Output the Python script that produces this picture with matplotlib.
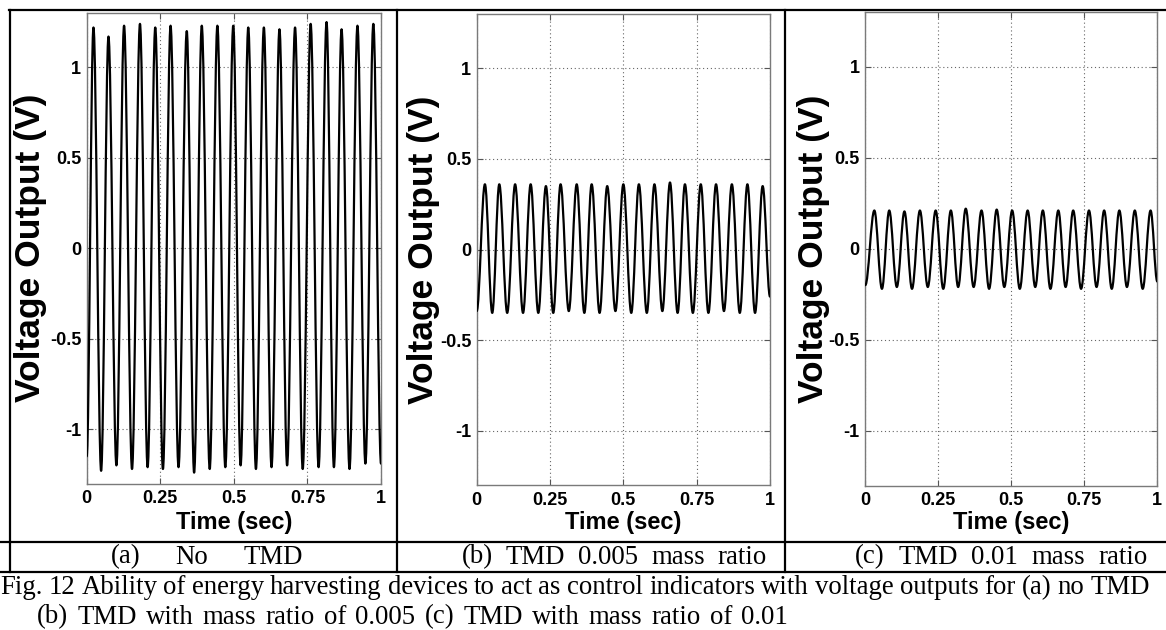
import matplotlib
matplotlib.use("Agg")
import matplotlib.pyplot as plt
from matplotlib.lines import Line2D
from matplotlib.path import Path
from matplotlib.patches import PathPatch

# ---------------- data ----------------
x_ticks = [0, 0.25, 0.5, 0.75, 1]
x_tick_labels = ["0", "0.25", "0.5", "0.75", "1"]
y_ticks = [-1, -0.5, 0, 0.5, 1]
y_tick_labels = ["-1", "-0.5", "0", "0.5", "1"]

# (a) No TMD : alternating extrema of the voltage trace
a_time = [0.000, 0.023, 0.049, 0.074, 0.101, 0.127, 0.154, 0.181, 0.207, 0.233,
          0.259, 0.285, 0.312, 0.340, 0.365, 0.391, 0.418, 0.444, 0.471, 0.498,
          0.523, 0.549, 0.575, 0.602, 0.628, 0.655, 0.681, 0.708, 0.734, 0.761,
          0.788, 0.815, 0.840, 0.866, 0.893, 0.920, 0.947, 0.974, 1.000]
a_volt = [-1.15, 1.22, -1.23, 1.17, -1.20, 1.23, -1.22, 1.24, -1.21, 1.22,
          -1.22, 1.23, -1.21, 1.20, -1.24, 1.23, -1.22, 1.23, -1.21, 1.23,
          -1.20, 1.22, -1.22, 1.22, -1.21, 1.21, -1.20, 1.22, -1.22, 1.24,
          -1.21, 1.25, -1.21, 1.21, -1.22, 1.23, -1.19, 1.24, -1.19]

# (b) TMD 0.005 mass ratio
b_time = [0.000, 0.028, 0.053, 0.077, 0.104, 0.131, 0.158, 0.184, 0.210, 0.236,
          0.261, 0.286, 0.314, 0.341, 0.367, 0.392, 0.419, 0.445, 0.473, 0.500,
          0.527, 0.553, 0.580, 0.606, 0.633, 0.659, 0.685, 0.710, 0.737, 0.764,
          0.790, 0.816, 0.843, 0.870, 0.897, 0.923, 0.949, 0.975, 1.000]
b_volt = [-0.34, 0.36, -0.35, 0.36, -0.35, 0.36, -0.35, 0.36, -0.35, 0.35,
          -0.35, 0.36, -0.34, 0.36, -0.35, 0.36, -0.35, 0.35, -0.34, 0.36,
          -0.35, 0.36, -0.35, 0.36, -0.34, 0.37, -0.35, 0.36, -0.35, 0.36,
          -0.35, 0.36, -0.34, 0.36, -0.35, 0.36, -0.35, 0.35, -0.26]

# (c) TMD 0.01 mass ratio
c_time = [0.000, 0.031, 0.057, 0.082, 0.108, 0.134, 0.160, 0.187, 0.214, 0.241,
          0.267, 0.293, 0.318, 0.344, 0.371, 0.398, 0.424, 0.450, 0.476, 0.503,
          0.529, 0.556, 0.582, 0.608, 0.634, 0.661, 0.686, 0.712, 0.739, 0.766,
          0.792, 0.818, 0.844, 0.870, 0.896, 0.923, 0.950, 0.977, 1.000]
c_volt = [-0.20, 0.21, -0.22, 0.21, -0.21, 0.205, -0.22, 0.21, -0.21, 0.21,
          -0.22, 0.21, -0.21, 0.22, -0.21, 0.21, -0.22, 0.215, -0.21, 0.21,
          -0.22, 0.21, -0.21, 0.21, -0.22, 0.21, -0.21, 0.21, -0.22, 0.21,
          -0.21, 0.21, -0.22, 0.21, -0.21, 0.21, -0.22, 0.21, -0.18]

sub_captions = ["(a) No TMD", "(b) TMD 0.005 mass ratio", "(c) TMD 0.01 mass ratio"]
fig_caption_1 = ("Fig. 12 Ability of energy harvesting devices to act as control indicators "
                 "with voltage outputs for (a) no TMD")
fig_caption_2 = "(b) TMD with mass ratio of 0.005 (c) TMD with mass ratio of 0.01"
x_label = "Time (sec)"
y_label = "Voltage Output (V)"

# ---------------- figure ----------------
W, H = 1166, 630
fig = plt.figure(figsize=(W / 100, H / 100), dpi=100)
fig.patch.set_facecolor("white")
renderer = fig.canvas.get_renderer()

SANS = ["Liberation Sans", "DejaVu Sans"]
SERIF = ["Liberation Serif", "DejaVu Serif"]


def px_axes(left, right, top, bottom):
    return fig.add_axes([left / W, 1 - bottom / H, (right - left) / W, (bottom - top) / H])


def smooth_path(tt, vv, k=0.3634):
    """Smooth curve through the extrema (horizontal tangents at each extremum)."""
    verts = [(tt[0], vv[0])]
    codes = [Path.MOVETO]
    for i in range(1, len(tt)):
        t0, v0, t1, v1 = tt[i - 1], vv[i - 1], tt[i], vv[i]
        d = t1 - t0
        verts += [(t0 + k * d, v0), (t1 - k * d, v1), (t1, v1)]
        codes += [Path.CURVE4] * 3
    return Path(verts, codes)


boxes = [(86.7, 381.0, 13.0, 483.5), (476.7, 770.0, 14.0, 485.0), (865.3, 1157.3, 12.0, 485.5)]
series = [(a_time, a_volt), (b_time, b_volt), (c_time, c_volt)]
ylabel_x = [31, 423, 814]

for (l, r, t, b), (tt, vv), ylx in zip(boxes, series, ylabel_x):
    ax = px_axes(l, r, t, b)
    ax.add_patch(PathPatch(smooth_path(tt, vv), facecolor="none", edgecolor="black",
                           lw=1.6, joinstyle="round", capstyle="round", zorder=3))
    ax.set_xlim(0, 1)
    ax.set_ylim(-1.3, 1.3)
    ax.set_xticks(x_ticks)
    ax.set_xticklabels(x_tick_labels)
    ax.set_yticks(y_ticks)
    ax.set_yticklabels(y_tick_labels)
    ax.tick_params(direction="in", top=True, right=True, length=4, width=0.8,
                   color="#555555", pad=4)
    ax.tick_params(axis="x", pad=5)
    for lab in ax.get_xticklabels() + ax.get_yticklabels():
        lab.set_fontfamily(SANS)
        lab.set_fontweight("bold")
        lab.set_fontsize(13)
    ax.grid(True, linestyle=(0, (1, 2.5)), color="#666666", lw=0.8)
    for sp in ax.spines.values():
        sp.set_color("#7a7a7a")
        sp.set_linewidth(1.0)
    ax.set_xlabel(x_label, fontfamily=SANS, fontweight="bold", fontsize=17, labelpad=0)
    ax.xaxis.set_label_coords(0.5, (b - 523) / (b - t), transform=ax.transAxes)
    ax.set_ylabel(y_label, fontfamily=SANS, fontweight="bold", fontsize=25.5, labelpad=0)
    ax.yaxis.set_label_coords((ylx - l) / (r - l), 0.5, transform=ax.transAxes)
    ax.xaxis.label.set_verticalalignment("center")
    ax.yaxis.label.set_verticalalignment("center")

# ---------------- table frame ----------------
def hline(y, x0, x1):
    fig.add_artist(Line2D([x0 / W, x1 / W], [1 - y / H, 1 - y / H], color="black", lw=1.6,
                          transform=fig.transFigure))


def vline(x, y0, y1):
    fig.add_artist(Line2D([x / W, x / W], [1 - y0 / H, 1 - y1 / H], color="black", lw=1.6,
                          transform=fig.transFigure))


hline(10, 9, W)
hline(541.5, 0, W)
hline(572, 0, W)
vline(10, 10, 572)
vline(397, 10, 572)
vline(785, 10, 572)


def justified(text, x0, x1, yc, size):
    """Place the words of a line so that it spans x0..x1 pixels (justified text)."""
    words = text.split(" ")
    arts = [fig.text(0, 1 - yc / H, w, ha="left", va="center", fontfamily=SERIF,
                     fontsize=size) for w in words]
    widths = [a.get_window_extent(renderer).width for a in arts]
    gap = (x1 - x0 - sum(widths)) / max(len(words) - 1, 1)
    x = x0
    for a, w in zip(arts, widths):
        a.set_x(x / W)
        x += w + gap


CAP = 19.3
justified(sub_captions[0], 111, 303, 557, CAP)
justified(sub_captions[1], 462, 767, 557, CAP)
justified(sub_captions[2], 855, 1148, 557, CAP)
justified(fig_caption_1, 0, 1150, 588, CAP)
justified(fig_caption_2, 37, 788, 617, CAP)

fig.savefig("out.png", dpi=100, facecolor="white")
